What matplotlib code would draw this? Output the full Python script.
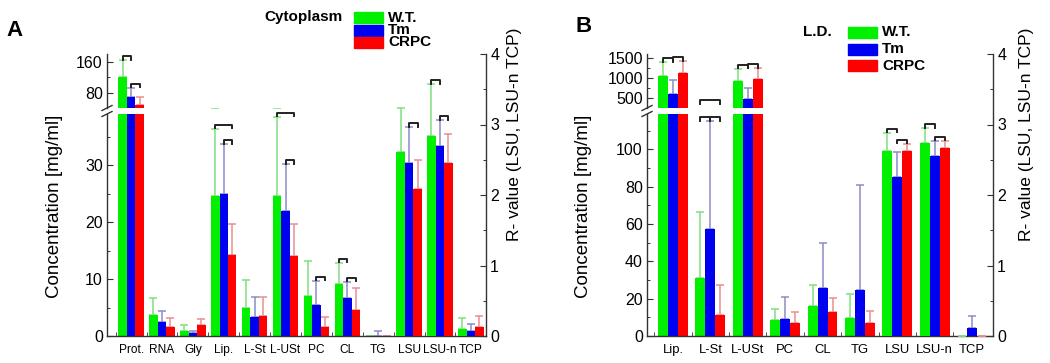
import matplotlib.pyplot as plt
from matplotlib.lines import Line2D
from matplotlib.patches import Rectangle
import numpy as np

plt.rcParams['font.family'] = ['Liberation Sans', 'DejaVu Sans']

W, H = 1050, 363

series = ['W.T.', 'Tm', 'CRPC']
bar_colors = ['#00f000', '#0000f0', '#ff0000']
err_colors = ['#80e080', '#8c8cc8', '#e89090']

# --- Panel A: cytoplasm ---
a_conc_cats = ['Prot.', 'RNA', 'Gly', 'Lip.', 'L-St', 'L-USt', 'PC', 'CL', 'TG']
a_r_cats = ['LSU', 'LSU-n', 'TCP']
a_wt = [121, 3.7, 0.9, 24.6, 4.9, 24.6, 7.0, 9.2, 0.05]
a_wt_err = [43, 3.0, 1.0, 11.8, 4.9, 13.9, 6.2, 3.7, 0.0]
a_tm = [68, 2.4, 0.5, 25.0, 3.4, 22.0, 5.4, 6.6, 0.05]
a_tm_err = [24, 2.0, 0.4, 8.7, 3.5, 8.2, 4.3, 2.9, 0.85]
a_crpc = [49, 1.6, 2.0, 14.2, 3.5, 14.0, 1.5, 4.6, 0.05]
a_crpc_err = [19, 1.5, 1.0, 5.4, 3.4, 5.6, 1.9, 3.9, 0.0]
a_wt_r = [2.61, 2.83, 0.10]
a_wt_r_err = [0.63, 0.74, 0.16]
a_tm_r = [2.46, 2.70, 0.07]
a_tm_r_err = [0.50, 0.36, 0.10]
a_crpc_r = [2.09, 2.45, 0.13]
a_crpc_r_err = [0.40, 0.41, 0.15]
# significance brackets: (category, first bar, last bar, level)
a_brackets = [(0, 0, 1, 0), (0, 1, 2, 0), (3, 0, 2, 0), (3, 1, 2, 0),
              (5, 0, 2, 0), (5, 1, 2, 0), (6, 1, 2, 0), (7, 0, 1, 0), (7, 1, 2, 0)]
a_brackets_r = [(0, 1, 2, 0), (1, 0, 1, 0), (1, 1, 2, 0)]

# --- Panel B: lipid droplets ---
b_conc_cats = ['Lip.', 'L-St', 'L-USt', 'PC', 'CL', 'TG']
b_r_cats = ['LSU', 'LSU-n', 'TCP']
b_wt = [1056, 31, 918, 8.4, 16.3, 9.9]
b_wt_err = [334, 35.3, 317, 5.9, 11.3, 12.7]
b_tm = [611, 57.5, 467, 9.0, 25.6, 24.4]
b_tm_err = [351, 57.5, 282, 11.8, 24.2, 56.8]
b_crpc = [1115, 11.3, 980, 7.2, 12.7, 6.8]
b_crpc_err = [300, 16.1, 263, 5.9, 7.7, 6.8]
b_wt_r = [2.62, 2.74, 0.0]
b_wt_r_err = [0.26, 0.21, 0.0]
b_tm_r = [2.25, 2.55, 0.12]
b_tm_r_err = [0.36, 0.22, 0.16]
b_crpc_r = [2.63, 2.67, 0.0]
b_crpc_r_err = [0.10, 0.09, 0.0]
b_brackets = [(0, 0, 1, 0), (0, 1, 2, 0), (1, 0, 1, 0), (1, 1, 2, 0), (1, 0, 2, 1),
              (2, 0, 1, 0), (2, 1, 2, 0)]
b_brackets_r = [(0, 0, 1, 0), (0, 1, 2, 0), (1, 0, 1, 0), (1, 1, 2, 0)]

fig = plt.figure(figsize=(W / 100, H / 100), dpi=100)


def frac(x, y):
    return x / W, 1 - y / H


def style_ticks(ax, side):
    ax.tick_params(axis='y', which='major', direction='in', length=4, width=0.8,
                   labelsize=11.5, color='#333333', left=(side == 'left'),
                   right=(side == 'right'), labelleft=(side == 'left'),
                   labelright=(side == 'right'), pad=3)
    ax.tick_params(axis='y', which='minor', direction='in', length=2.2, width=0.7,
                   color='#333333', left=(side == 'left'), right=(side == 'right'))


def draw_panel(x0, x1, conc_cats, r_cats, conc, conc_err, rv, rv_err,
               low_lim, low_ticks, low_minor, up_lim, up_ticks, up_minor,
               xlim, width, brackets, brackets_r, xfont):
    y_bot, low_top, up_bot, top = 336, 114, 108, 54
    left, bottom = frac(x0, y_bot)
    w = (x1 - x0) / W
    ax_low = fig.add_axes([left, bottom, w, (y_bot - low_top) / H])
    ax_up = fig.add_axes([left, frac(0, up_bot)[1], w, (up_bot - top) / H])
    ax_r = fig.add_axes([left, bottom, w, (y_bot - top) / H])
    ax_r.patch.set_visible(False)

    xc = np.arange(len(conc_cats))
    xr = np.arange(len(conc_cats), len(conc_cats) + len(r_cats))
    offs = [-width, 0, width]
    for k in range(3):
        for ax in (ax_low, ax_up):
            ax.bar(xc + offs[k], conc[k], width, color=bar_colors[k], zorder=2)
            ax.errorbar(xc + offs[k], conc[k], yerr=[np.zeros(len(xc)), conc_err[k]],
                        fmt='none', ecolor=err_colors[k], elinewidth=1.1,
                        capsize=3, capthick=1.1, zorder=1)
        ax_r.bar(xr + offs[k], rv[k], width, color=bar_colors[k], zorder=2)
        ax_r.errorbar(xr + offs[k], rv[k], yerr=[np.zeros(len(xr)), rv_err[k]],
                      fmt='none', ecolor=err_colors[k], elinewidth=1.1,
                      capsize=3, capthick=1.1, zorder=1)

    for ax in (ax_low, ax_up, ax_r):
        ax.set_xlim(*xlim)
        for s in ax.spines.values():
            s.set_color('#333333')
            s.set_linewidth(1.0)
    ax_low.set_ylim(*low_lim)
    ax_up.set_ylim(*up_lim)
    ax_r.set_ylim(0, 4)

    ax_low.spines[['top', 'right']].set_visible(False)
    ax_up.spines[['top', 'right', 'bottom']].set_visible(False)
    ax_r.spines[['top', 'left', 'bottom']].set_visible(False)

    ax_low.set_yticks(low_ticks)
    ax_low.set_yticks(low_minor, minor=True)
    ax_up.set_yticks(up_ticks)
    ax_up.set_yticks(up_minor, minor=True)
    ax_r.set_yticks([0, 1, 2, 3, 4])
    ax_r.set_yticks(np.arange(0.5, 4, 1.0), minor=True)
    style_ticks(ax_low, 'left')
    style_ticks(ax_up, 'left')
    style_ticks(ax_r, 'right')

    allcats = conc_cats + r_cats
    ax_low.set_xticks(np.arange(len(allcats)))
    ax_low.set_xticklabels(allcats, fontsize=xfont)
    ax_low.set_xticks(np.arange(len(allcats)) - 0.5, minor=True)
    ax_low.tick_params(axis='x', which='major', length=0, pad=6)
    ax_low.tick_params(axis='x', which='minor', direction='in', length=3,
                       color='#333333')
    ax_up.set_xticks([])
    ax_r.set_xticks([])

    # break marks on the left axis
    for yy in (up_bot, low_top):
        xa, ya = frac(x0 - 5, yy + 2.5)
        xb, yb = frac(x0 + 5, yy - 2.5)
        fig.add_artist(Line2D([xa, xb], [ya, yb], color='#333333', lw=1.0))

    # significance brackets, placed just above the tallest error bar they span
    inv = fig.transFigure.inverted()

    def bracket(ax, xs, vals, errs, cat, i, j, level):
        tv = max(vals[s][cat] + errs[s][cat] for s in range(i, j + 1))
        if ax is None:
            ax = ax_up if tv > low_lim[1] else ax_low
        xd0 = ax.transData.transform((xs[cat] + offs[i], 0))[0]
        xd1 = ax.transData.transform((xs[cat] + offs[j], 0))[0]
        yd = ax.transData.transform((0, tv))[1] + 4 + 17 * level
        pts = inv.transform([(xd0, yd - 3.5), (xd0, yd), (xd1, yd), (xd1, yd - 3.5)])
        fig.add_artist(Line2D(pts[:, 0], pts[:, 1], color='#222222', lw=1.4))

    for cat, i, j, lev in brackets:
        bracket(None, xc, conc, conc_err, cat, i, j, lev)
    for cat, i, j, lev in brackets_r:
        bracket(ax_r, xr, rv, rv_err, cat, i, j, lev)
    return ax_low, ax_up, ax_r


draw_panel(107, 486, a_conc_cats, a_r_cats,
           [a_wt, a_tm, a_crpc], [a_wt_err, a_tm_err, a_crpc_err],
           [a_wt_r, a_tm_r, a_crpc_r], [a_wt_r_err, a_tm_r_err, a_crpc_r_err],
           (0, 39), [0, 10, 20, 30], [5, 15, 25, 35],
           (40, 180), [80, 160], [120],
           (-0.78, 11.49), 0.275, a_brackets, a_brackets_r, 8.6)

draw_panel(647, 993, b_conc_cats, b_r_cats,
           [b_wt, b_tm, b_crpc], [b_wt_err, b_tm_err, b_crpc_err],
           [b_wt_r, b_tm_r, b_crpc_r], [b_wt_r_err, b_tm_r_err, b_crpc_r_err],
           (0, 119), [0, 20, 40, 60, 80, 100], [10, 30, 50, 70, 90, 110],
           (250, 1600), [500, 1000, 1500], [750, 1250],
           (-0.695, 8.56), 0.267, b_brackets, b_brackets_r, 9.4)

# axis titles
for xl, xr_ in ((55, 515), (583, 1027)):
    fig.text(*frac(xl, 206), 'Concentration [mg/ml]', rotation=90,
             ha='center', va='center', fontsize=13.5)
    fig.text(*frac(xr_, 134), 'R- value (LSU, LSU-n TCP)', rotation=90,
             ha='center', va='center', fontsize=12.5)

# panel letters
fig.text(*frac(14, 30), 'A', fontsize=16, fontweight='bold', ha='center', va='center')
fig.text(*frac(584, 27), 'B', fontsize=16, fontweight='bold', ha='center', va='center')


# legends drawn by hand to match the tight row spacing
def legend(title, tx, x_patch, y_first, step):
    fig.text(*frac(tx, y_first + 5.5), title, fontsize=11, fontweight='bold',
             ha='right', va='center')
    for k, name in enumerate(series):
        yy = y_first + k * step
        xa, ya = frac(x_patch, yy + 11)
        fig.add_artist(Rectangle((xa, ya), 29 / W, 11 / H, color=bar_colors[k],
                                 transform=fig.transFigure))
        fig.text(*frac(x_patch + 34, yy + 5.5), name, fontsize=11,
                 fontweight='bold', ha='left', va='center')


legend('Cytoplasm', 343, 354, 12, 12.5)
legend('L.D.', 832, 848, 27, 16.5)

fig.savefig('out.png', dpi=100)
